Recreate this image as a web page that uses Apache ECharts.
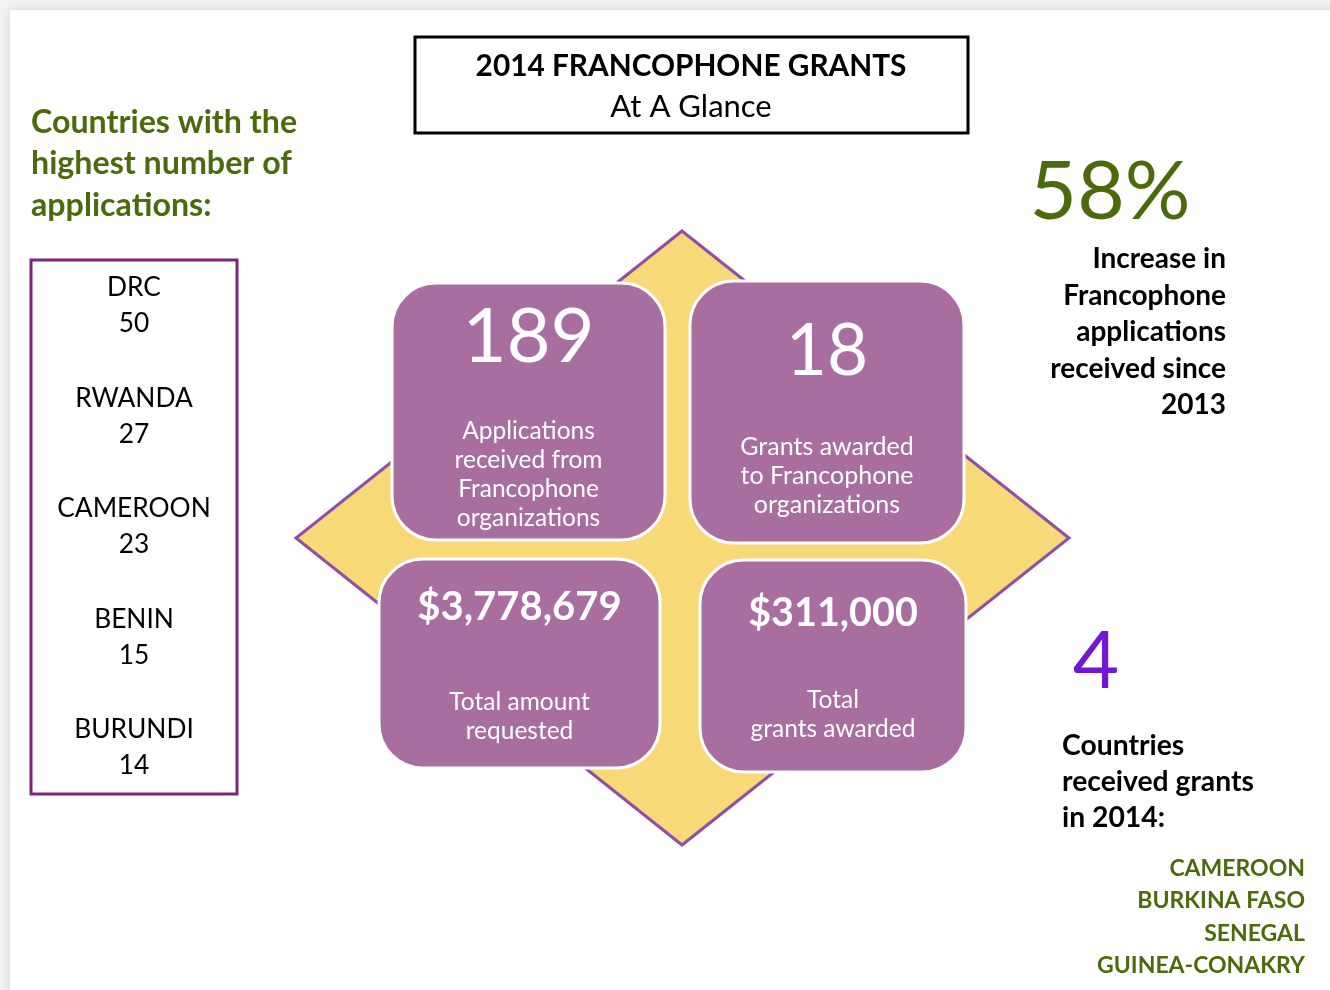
<!DOCTYPE html>
<html>
<head>
<meta charset="utf-8">
<title>2014 Francophone Grants</title>
<script src="https://cdn.jsdelivr.net/npm/echarts@6/dist/echarts.min.js"></script>
<style>
  html, body { margin: 0; padding: 0; background: #f2f2f2; }
  #chart { width: 1330px; height: 990px; }
</style>
</head>
<body>
<div id="chart"></div>
<script>
// data
const topCountries = ['DRC', 'RWANDA', 'CAMEROON', 'BENIN', 'BURUNDI'];
const applicationCounts = [50, 27, 23, 15, 14];
const statValues = ['189', '18', '$3,778,679', '$311,000'];
const statLabels = [
  'Applications\nreceived from\nFrancophone\norganizations',
  'Grants awarded\nto Francophone\norganizations',
  'Total amount\nrequested',
  'Total\ngrants awarded'
];
const increasePct = 58;
const increaseText = 'Increase in\nFrancophone\napplications\nreceived since\n2013';
const grantCountries = ['CAMEROON', 'BURKINA FASO', 'SENEGAL', 'GUINEA-CONAKRY'];

const FONT = 'Lato, "Open Sans", sans-serif';
const GREEN = '#4b6a0b';
const PURPLE_BOX = '#a86e9f';

const chart = echarts.init(document.getElementById('chart'));

function txt(text, x, y, size, opts) {
  opts = opts || {};
  return {
    type: 'text',
    z: opts.z || 10,
    style: {
      text: text,
      x: x,
      y: y,
      fill: opts.color || '#000',
      fontSize: size,
      fontFamily: FONT,
      fontWeight: opts.weight || 'normal',
      align: opts.align || 'center',
      verticalAlign: 'middle',
      lineHeight: opts.lineHeight || size * 1.2
    }
  };
}

const elements = [];

// white page card
elements.push({
  type: 'rect', z: 0,
  shape: { x: 10, y: 10, width: 1330, height: 990 },
  style: { fill: '#fff', shadowBlur: 10, shadowColor: 'rgba(0,0,0,0.12)' }
});

// title box
elements.push({
  type: 'rect', z: 2,
  shape: { x: 415, y: 37, width: 553, height: 96 },
  style: { fill: '#fff', stroke: '#000', lineWidth: 3 }
});
elements.push(txt('2014 FRANCOPHONE GRANTS', 691, 66, 29.8, { weight: 'bold' }));
elements.push(txt('At A Glance', 691, 107, 31));

// left heading
elements.push(txt('Countries with the\nhighest number of\napplications:', 31, 164, 32.2,
  { weight: 'bold', color: GREEN, align: 'left', lineHeight: 41.5 }));

// left country box
elements.push({
  type: 'rect', z: 2,
  shape: { x: 31, y: 260, width: 206, height: 534 },
  style: { fill: '#fff', stroke: '#7d237e', lineWidth: 3 }
});
topCountries.forEach(function (name, i) {
  const y = 288 + i * 110.5;
  elements.push(txt(name, 134, y, 26.3));
  elements.push(txt(String(applicationCounts[i]), 134, y + 36, 26.3));
});

// yellow diamond
elements.push({
  type: 'polygon', z: 3,
  shape: { points: [[682, 231], [1069, 538], [682, 845], [296, 538]] },
  style: { fill: '#f7d977', stroke: '#8e4fa8', lineWidth: 3 }
});

// four stat boxes
const boxes = [
  { x: 392, y: 283, w: 273, h: 257, vy: 337, vs: 76, vw: 'normal', ly: 475, ls: 24.5 },
  { x: 690, y: 281, w: 274, h: 262, vy: 352, vs: 71, vw: 'normal', ly: 476, ls: 25 },
  { x: 379, y: 559, w: 281, h: 209, vy: 607, vs: 40, vw: 'bold', ly: 717, ls: 24.5 },
  { x: 700, y: 560, w: 266, h: 212, vy: 613, vs: 39.5, vw: 'bold', ly: 715, ls: 24.5 }
];
boxes.forEach(function (b, i) {
  elements.push({
    type: 'rect', z: 5,
    shape: { x: b.x, y: b.y, width: b.w, height: b.h, r: 44 },
    style: { fill: PURPLE_BOX, stroke: '#fff', lineWidth: 3 }
  });
  const cx = b.x + b.w / 2;
  elements.push(txt(statValues[i], cx, b.vy, b.vs, { color: '#fff', weight: b.vw }));
  elements.push(txt(statLabels[i], cx, b.ly, b.ls, { color: '#fff', lineHeight: 29 }));
});

// 58% block
elements.push(txt(increasePct + '%', 1110, 193, 82, { color: GREEN }));
elements.push(txt(increaseText, 1226, 332, 28, { weight: 'bold', align: 'right', lineHeight: 36.5 }));

// 4 countries block
elements.push(txt(String(grantCountries.length), 1096, 662, 80, { color: '#7417d5' }));
elements.push(txt('Countries\nreceived grants\nin 2014:', 1062, 782, 28.3,
  { weight: 'bold', align: 'left', lineHeight: 36 }));
elements.push(txt(grantCountries.join('\n'), 1305, 917, 23,
  { weight: 'bold', color: GREEN, align: 'right', lineHeight: 32.5 }));

chart.setOption({
  backgroundColor: '#f2f2f2',
  animation: false,
  graphic: { elements: elements }
});
</script>
</body>
</html>
